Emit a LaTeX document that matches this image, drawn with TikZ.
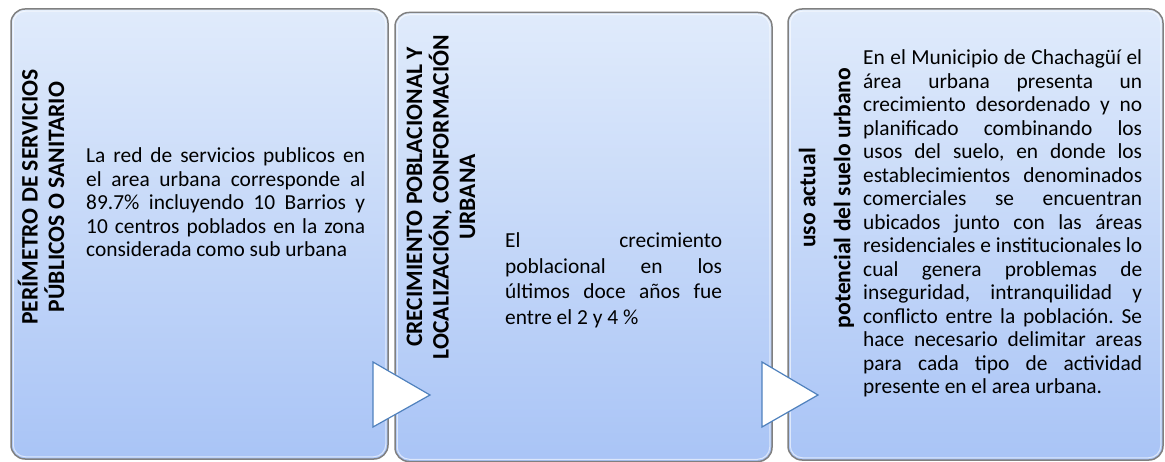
\documentclass[tikz,border=0pt]{standalone}
\usepackage{fontspec}
\setmainfont{Carlito}
\frenchspacing
\definecolor{ptop}{HTML}{E0EBFB}
\definecolor{pbot}{HTML}{A9C4F6}
\definecolor{pedge}{HTML}{808080}
\definecolor{tricol}{HTML}{4F81BD}
\newcommand\pbody{\fontsize{21.4pt}{23.5pt}\selectfont\frenchspacing\hyphenpenalty=10000\tolerance=10000\hbadness=10000}
\newcommand\pbodyb{\fontsize{21.4pt}{25.5pt}\selectfont\frenchspacing\hyphenpenalty=10000\tolerance=10000\hbadness=10000}
\newcommand\phead{\fontsize{23.6pt}{26.5pt}\selectfont\bfseries}
\tikzset{
  panel/.style={draw=pedge, line width=1.5pt, rounded corners=14pt, top color=ptop, bottom color=pbot, inner sep=0pt},
  bevel/.style={draw=white, opacity=0.6, line width=1pt, rounded corners=12pt},
  headtext/.style={rotate=90, align=center, font=\phead, inner sep=0pt, text=black},
  bodytext/.style={anchor=base west, text width=279pt, align=justify, font=\pbody, inner sep=0pt, text=black},
  tri/.style={draw=tricol, fill=white, line width=1.2pt, line join=miter}
}
\begin{document}
\begin{tikzpicture}[x=1pt,y=-1pt]
\useasboundingbox (0,0) rectangle (1165,462);
% panels
\node[panel, minimum width=377pt, minimum height=450pt] (p1) at (199.5,234) {};
\node[panel, minimum width=377pt, minimum height=449pt] (p2) at (583.5,237) {};
\node[panel, minimum width=375pt, minimum height=451pt] (p3) at (975.5,234.5) {};
\foreach \p in {p1,p2,p3}
  \draw[bevel] ([shift={(3pt,-3pt)}]\p.north west) rectangle ([shift={(-3pt,3pt)}]\p.south east);
% headings
\node[headtext] (h1) at (41,197) {PERÍMETRO DE SERVICIOS\\PÚBLICOS O SANITARIO};
\node[headtext] (h2) at (441,197) {CRECIMIENTO POBLACIONAL Y\\LOCALIZACIÓN, CONFORMACIÓN\\URBANA};
\node[headtext] (h3) at (826.5,198) {uso actual\\[8.5pt]potencial del suelo urbano};
% bodies
\node[bodytext] (b1) at (86,163) {La red de servicios publicos en\linebreak el area urbana corresponde al\linebreak 89.7\% incluyendo 10 Barrios y\linebreak 10 centros poblados en la zona\linebreak considerada como sub urbana};
\node[bodytext, text width=217pt, font=\pbodyb] (b2) at (505,248) {El crecimiento\linebreak poblacional en los\linebreak últimos doce años fue\linebreak entre el 2 y 4 \%};
\node[bodytext] (b3) at (863,65) {En el Municipio de Chachagüí el\linebreak área urbana presenta un\linebreak crecimiento desordenado y no\linebreak planificado combinando los\linebreak usos del suelo, en donde los\linebreak establecimientos denominados\linebreak comerciales se encuentran\linebreak ubicados junto con las áreas\linebreak residenciales e institucionales lo\linebreak cual genera problemas de\linebreak inseguridad, intranquilidad y\linebreak conflicto entre la población. Se\linebreak hace necesario delimitar areas\linebreak para cada tipo de actividad\linebreak presente en el area urbana.};
% arrows between panels
\draw[tri] (373,362) -- (373,427) -- (430,395) -- cycle;
\draw[tri] (762,362) -- (762,427) -- (818,395) -- cycle;
\end{tikzpicture}
\end{document}
